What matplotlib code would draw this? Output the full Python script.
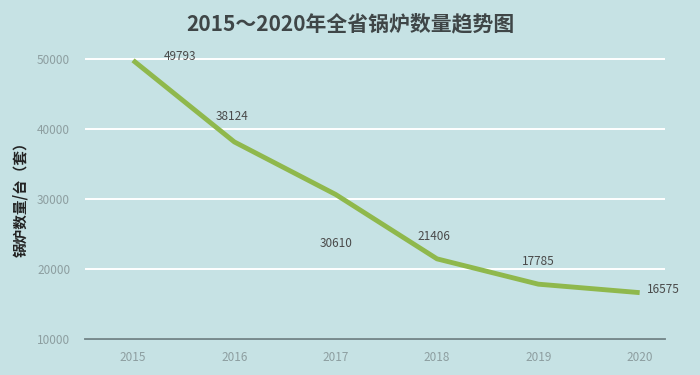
import matplotlib.pyplot as plt

plt.rcParams['font.family'] = ['Noto Sans CJK SC', 'DejaVu Sans']

years = ['2015', '2016', '2017', '2018', '2019', '2020']
boilers = [49793, 38124, 30610, 21406, 17785, 16575]
# label offsets in points (dx, dy) for each value label
label_offsets = [(34, 3), (-2, 18), (0, -35), (-2, 16), (0, 16), (17, 2)]

bg = '#c6e2e4'
fig = plt.figure(figsize=(7, 3.75), dpi=100, facecolor=bg)
ax = fig.add_axes([0.122, 0.097, 0.828, 0.76], facecolor=bg)

x = list(range(len(years)))
ax.plot(x, boilers, color='#8fb84c', linewidth=3.5, solid_capstyle='butt', zorder=3)

for xi, v, (dx, dy) in zip(x, boilers, label_offsets):
    ax.annotate(str(v), (xi, v), xytext=(dx, dy), textcoords='offset points',
                ha='center', va='center', fontsize=8.5, color='#4a4a4a')

ax.set_xlim(-0.47, 5.25)
ax.set_ylim(10000, 50750)
ax.set_yticks([10000, 20000, 30000, 40000, 50000])
ax.set_xticks(x)
ax.set_xticklabels(years)
ax.tick_params(length=0, colors='#8d9ea0', labelsize=8.5)
ax.tick_params(axis='x', pad=9)
ax.tick_params(axis='y', pad=11)

ax.grid(axis='y', color='white', linewidth=1.4)
ax.set_axisbelow(True)
for s in ['top', 'right', 'left']:
    ax.spines[s].set_visible(False)
ax.spines['bottom'].set_color('#6f8285')
ax.spines['bottom'].set_linewidth(1.3)

ax.set_ylabel('锅炉数量/台（套）', fontsize=10.5, fontweight='bold', color='#222222', labelpad=6)

fig.suptitle('2015～2020年全省锅炉数量趋势图', x=0.5, y=0.965, fontsize=15,
             fontweight='bold', color='#3f4647')

fig.savefig('out.png', dpi=100, facecolor=bg)
